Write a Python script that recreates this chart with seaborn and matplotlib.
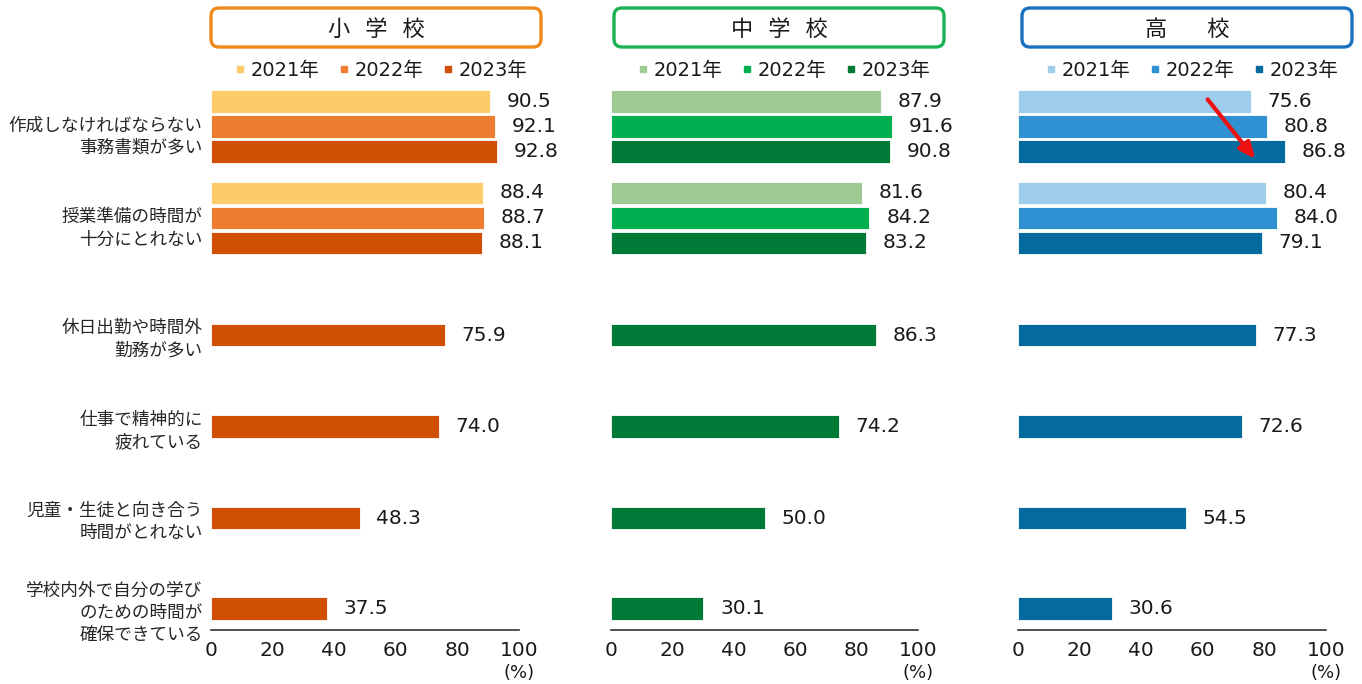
import numpy as np
import pandas as pd
import matplotlib
matplotlib.use("Agg")
import matplotlib.pyplot as plt
import matplotlib.transforms as mtransforms
from matplotlib.patches import FancyBboxPatch
from matplotlib.lines import Line2D
import seaborn as sns

# ---------------- data ----------------
categories = [
    "作成しなければならない\n事務書類が多い",
    "授業準備の時間が\n十分にとれない",
    "休日出勤や時間外\n勤務が多い",
    "仕事で精神的に\n疲れている",
    "児童・生徒と向き合う\n時間がとれない",
    "学校内外で自分の学び\nのための時間が\n確保できている",
]
years = ["2021年", "2022年", "2023年"]
panels = ["小   学   校", "中   学   校", "高        校"]

elem_2021 = [90.5, 88.4]
elem_2022 = [92.1, 88.7]
elem_2023 = [92.8, 88.1, 75.9, 74.0, 48.3, 37.5]
mid_2021 = [87.9, 81.6]
mid_2022 = [91.6, 84.2]
mid_2023 = [90.8, 83.2, 86.3, 74.2, 50.0, 30.1]
high_2021 = [75.6, 80.4]
high_2022 = [80.8, 84.0]
high_2023 = [86.8, 79.1, 77.3, 72.6, 54.5, 30.6]

x_ticks = [0, 20, 40, 60, 80, 100]

panel_values = [
    (elem_2021, elem_2022, elem_2023),
    (mid_2021, mid_2022, mid_2023),
    (high_2021, high_2022, high_2023),
]
panel_colors = [
    ["#FECB6A", "#ED7D31", "#D04F05"],
    ["#9FCB93", "#00B050", "#007A37"],
    ["#9DCDEB", "#2F90D2", "#056A9E"],
]
border_colors = ["#F08A1C", "#1DB154", "#1A72BF"]

# ---------------- layout ----------------
slots = [0, 1, 2.28, 3.28, 4.28, 5.27]     # row centres
group_offsets = [-0.273, 0.0, 0.273]       # year offsets inside the grouped rows
bar_h = 0.248

sns.set_theme(style="white")
plt.rcParams["font.family"] = ["DejaVu Sans", "Noto Sans CJK JP"]
plt.rcParams["text.color"] = "#1a1a1a"

W, H = 1362, 684
fig = plt.figure(figsize=(W / 100, H / 100), dpi=100)

ax_px = [(211, 519), (611, 918), (1018, 1326)]
top_px, bot_px = 88, 630
y_top, y_bot = -0.42, 5.503
jp = ["Noto Sans CJK JP", "DejaVu Sans"]

for p, (vals, cols) in enumerate(zip(panel_values, panel_colors)):
    x0, x1 = ax_px[p]
    ax = fig.add_axes([x0 / W, (H - bot_px) / H, (x1 - x0) / W, (bot_px - top_px) / H])

    rows = []
    for yi, (year, series) in enumerate(zip(years, vals)):
        for ci, v in enumerate(series):
            off = group_offsets[yi] if ci < 2 else 0.0
            rows.append({"pos": slots[ci] + off, "value": v, "year": year})
    df = pd.DataFrame(rows)
    native = np.min(np.diff(np.unique(df["pos"].values)))

    sns.barplot(data=df, x="value", y="pos", hue="year", orient="h",
                native_scale=True, dodge=False, width=bar_h / native,
                palette=dict(zip(years, cols)), hue_order=years, saturation=1,
                edgecolor="white", linewidth=0.6, legend=False, ax=ax)

    for cont in ax.containers:
        ax.bar_label(cont, fmt="%.1f", padding=12, fontsize=14.5, color="#1a1a1a")

    ax.set_xlim(0, 100)
    ax.set_ylim(y_bot, y_top)
    ax.set_xticks(x_ticks)
    ax.set_xticklabels([str(t) for t in x_ticks], fontsize=14.5)
    ax.set_xlabel("")
    ax.set_ylabel("")
    label_pos = [s + (0.07 if i < 2 else 0.0) for i, s in enumerate(slots)]
    ax.set_yticks(label_pos)
    if p == 0:
        ax.set_yticklabels(categories, fontsize=12.7, linespacing=1.3, ha="right",
                           family=jp)
    else:
        ax.set_yticklabels([])
    ax.tick_params(axis="y", length=0, pad=6)
    ax.tick_params(axis="x", direction="in", length=5, width=1.2, color="#333333",
                   pad=8, labelcolor="#1a1a1a")
    for s in ["top", "right", "left"]:
        ax.spines[s].set_visible(False)
    ax.spines["bottom"].set_color("#333333")
    ax.spines["bottom"].set_linewidth(1.2)
    ax.grid(False)
    ax.patch.set_alpha(0)

    trans = mtransforms.blended_transform_factory(ax.transData, ax.transAxes)
    ax.text(100, -0.08, "(%)", transform=trans, ha="center", va="center",
            fontsize=13, color="#1a1a1a")

    # title box
    bx0 = [211, 614, 1022][p]
    bx1 = bx0 + 330
    box = FancyBboxPatch((bx0 / 100, (H - 47) / 100), (bx1 - bx0) / 100, 0.39,
                         boxstyle="round,pad=0,rounding_size=0.08",
                         transform=fig.dpi_scale_trans, facecolor="white",
                         edgecolor=border_colors[p], linewidth=2.4)
    fig.add_artist(box)
    fig.text((bx0 + bx1) / 2 / W, 1 - 29 / H, panels[p], ha="center", va="center",
             fontsize=16, color="#1a1a1a", family=jp)

    # legend
    handles = [Line2D([], [], marker="s", linestyle="", markersize=5,
                      color=c) for c in cols]
    fig.legend(handles, years, loc="center", ncol=3,
               bbox_to_anchor=((bx0 + bx1) / 2 / W + 0.004, 1 - 70 / H),
               frameon=False, fontsize=14, handlelength=0.5, handletextpad=0.3,
               columnspacing=1.0, borderaxespad=0)

    if p == 2:
        ax.annotate("", xy=(77.6, 0.38), xytext=(61.0, -0.32),
                    arrowprops=dict(arrowstyle="-|>,head_length=0.8,head_width=0.35",
                                    color="#EE1111", lw=3))

fig.savefig("out.png", dpi=100)
